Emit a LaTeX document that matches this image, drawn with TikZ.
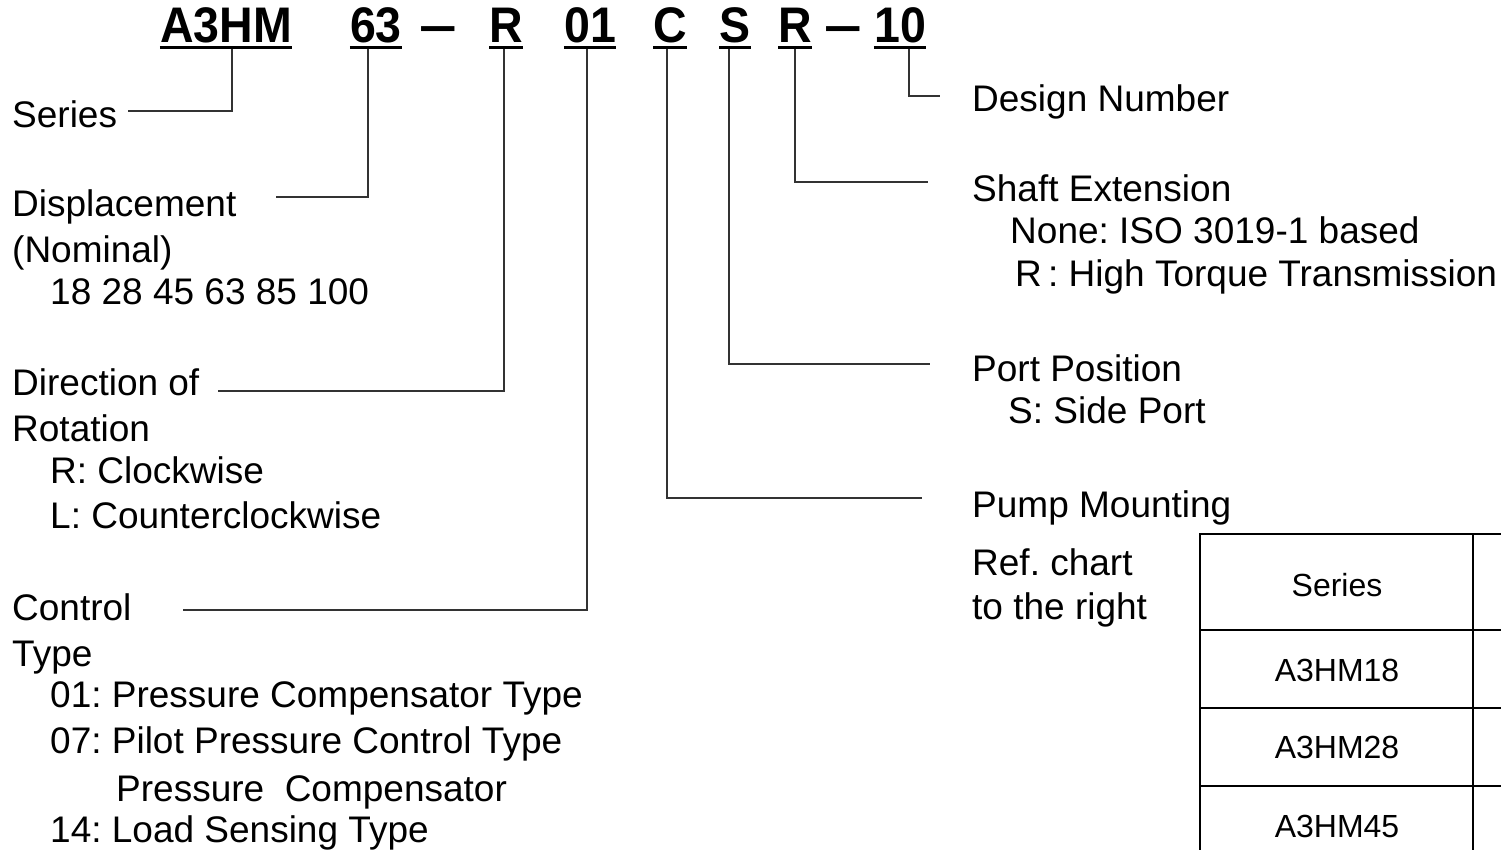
\documentclass[tikz,border=0pt]{standalone}
\usepackage{fontspec}
\setmainfont{Liberation Sans}
\newfontfamily\codefont[FakeStretch=0.93]{Liberation Sans}
\usepackage{tikz}
\frenchspacing

\begin{document}
\begin{tikzpicture}[
		x=1pt, y=-1pt,
		code/.style={
			anchor=base,
			inner sep=0pt,
			font=\codefont\bfseries\fontsize{50}{50}\selectfont
		},
		lbl/.style={anchor=base west, inner sep=0pt, font=\fontsize{37}{40}\selectfont},
		cell/.style={inner sep=0pt, font=\fontsize{32}{36}\selectfont},
		uline/.style={line width=3pt},
		conn/.style={line width=1.4pt, draw=black!80},
		grid/.style={line width=2.5pt}
		]
		
		\useasboundingbox (0,0) rectangle (1501,850);
		
		\node[code] (hSer) at (226,43) {A3HM};
		\node[code] (h63) at (376,43) {63};
		\node[code] (dashA) at (438,43) {\scalebox{1.45}[1]{\textendash}};
		\node[code] (hRot) at (506,43) {R};
		\node[code] (hCtl) at (590,43) {01};
		\node[code] (hMnt) at (670,43) {C};
		\node[code] (hPort) at (735,43) {S};
		\node[code] (hShaft) at (795,43) {R};
		\node[code] (dashB) at (843,43) {\scalebox{1.45}[1]{\textendash}};
		\node[code] (hDes) at (900,43) {10};
		
		\foreach \n in {hSer,h63,hRot,hCtl,hMnt,hPort,hShaft,hDes}
			\draw[uline] ([yshift=-4.5pt]\n.base west) -- ([yshift=-4.5pt]\n.base east);
		
		\node[lbl] (tSer) at (12,128) {Series};
		\node[lbl] (tDisp) at (12,217) {Displacement};
		\node[lbl] (tNom) at (12,262) {(Nominal)};
		\node[lbl] (tSizes) at (50,304) {18 28 45 63 85 100};
		\node[lbl] (tDir) at (12,395) {Direction of};
		\node[lbl] (tRot) at (12,441) {Rotation};
		\node[lbl] (tCW) at (50,483) {R: Clockwise};
		\node[lbl] (tCCW) at (50,528) {L: Counterclockwise};
		\node[lbl] (tCtl) at (12,620) {Control};
		\node[lbl] (tType) at (12,666) {Type};
		\node[lbl] (t01) at (50,707) {01: Pressure Compensator Type};
		\node[lbl] (t07) at (50,753) {07: Pilot Pressure Control Type};
		\node[lbl] (t07b) at (116,801) {Pressure~~Compensator};
		\node[lbl] (t14) at (50,842) {14: Load Sensing Type};
		
		\node[lbl] (tDes) at (972,112) {Design Number};
		\node[lbl] (tShaft) at (972,202) {Shaft Extension};
		\node[lbl] (tIso) at (1010,244) {None: ISO 3019-1 based};
		\node[lbl] (tHT) at (1015,287) {R\,: High Torque Transmission};
		\node[lbl] (tPort) at (972,381) {Port Position};
		\node[lbl] (tSide) at (1008,423) {S: Side Port};
		\node[lbl] (tMnt) at (972,517) {Pump Mounting};
		\node[lbl] (tRef) at (972,575) {Ref. chart};
		\node[lbl] (tRight) at (972,619) {to the right};
		
		\coordinate (eSer) at (128,111);
		\coordinate (eDisp) at (276,197);
		\coordinate (eDir) at (218,391);
		\coordinate (eCtl) at (183,610);
		\coordinate (eMnt) at (922,498);
		\coordinate (ePort) at (930,364);
		\coordinate (eShaft) at (928,182);
		\coordinate (eDes) at (940,96);
		
		\draw[conn] ([xshift=6pt,yshift=-6pt]hSer.base) |- (eSer);
		\draw[conn] ([xshift=-8pt,yshift=-6pt]h63.base) |- (eDisp);
		\draw[conn] ([xshift=-2pt,yshift=-6pt]hRot.base) |- (eDir);
		\draw[conn] ([xshift=-3pt,yshift=-6pt]hCtl.base) |- (eCtl);
		\draw[conn] ([xshift=-3pt,yshift=-6pt]hMnt.base) |- (eMnt);
		\draw[conn] ([xshift=-6pt,yshift=-6pt]hPort.base) |- (ePort);
		\draw[conn] ([yshift=-6pt]hShaft.base) |- (eShaft);
		\draw[conn] ([xshift=9pt,yshift=-6pt]hDes.base) |- (eDes);
		
		\draw[grid] (1200,850) -- (1200,534) -- (1501,534);
		\draw[grid] (1473,534) -- (1473,850);
		\foreach \y in {630,708,786}
			\draw[grid] (1200,\y) -- (1501,\y);
		
		\node[cell] (cHead) at (1337,585) {Series};
		\node[cell] (c18) at (1337,670) {A3HM18};
		\node[cell] (c28) at (1337,747) {A3HM28};
		\node[cell] (c45) at (1337,826) {A3HM45};
		
	\end{tikzpicture}
\end{document}
